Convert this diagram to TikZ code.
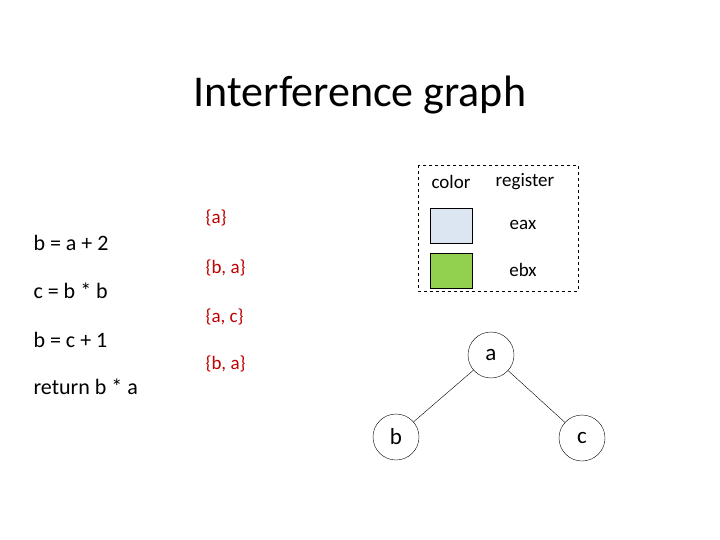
\documentclass[tikz,border=0pt]{standalone}
\usepackage{fontspec}
\setmainfont{Carlito}
\definecolor{setred}{RGB}{192,0,0}
\definecolor{eaxcol}{RGB}{220,230,242}
\definecolor{ebxcol}{RGB}{146,208,80}
\tikzset{
  vertex/.style={draw, circle, minimum size=46pt, inner sep=0pt, font=\fontsize{23}{26}\selectfont},
  code/.style={anchor=west, font=\fontsize{22}{26}\selectfont},
  live/.style={anchor=west, text=setred, font=\fontsize{19}{22}\selectfont},
  legend/.style={font=\fontsize{19}{22}\selectfont},
  swatch/.style={draw, minimum width=42pt, minimum height=35pt, inner sep=0pt}
}
\begin{document}
\begin{tikzpicture}[x=1pt, y=-1pt]
\useasboundingbox (0,0) rectangle (720,540);
\node (title) at (360,95) {\fontsize{44}{50}\selectfont Interference graph};
% code
\node[code] (l1) at (30,243) {b~=~a~+~2};
\node[code] (l2) at (30,291) {c~=~b~*~b};
\node[code] (l3) at (30,340) {b~=~c~+~1};
\node[code] (l4) at (30,387) {return~b~*~a};
% live sets
\node[live] (s1) at (202,218) {\{a\}};
\node[live] (s2) at (202,268) {\{b, a\}};
\node[live] (s3) at (202,317) {\{a, c\}};
\node[live] (s4) at (202,364) {\{b, a\}};
% legend
\draw[dashed] (418,165) rectangle (578,291);
\node[legend] (hc) at (451,182) {color};
\node[legend] (hr) at (525,182) {register};
\node[swatch, fill=eaxcol] (eax) at (451,226) {};
\node[swatch, fill=ebxcol] (ebx) at (451,271) {};
\node[legend] (neax) at (523,225) {eax};
\node[legend] (nebx) at (523,270) {ebx};
% graph
\node[vertex] (a) at (491,355) {a};
\node[vertex] (b) at (396,437) {b};
\node[vertex] (c) at (582,438) {c};
\draw (a) -- (b);
\draw (a) -- (c);
\end{tikzpicture}
\end{document}
